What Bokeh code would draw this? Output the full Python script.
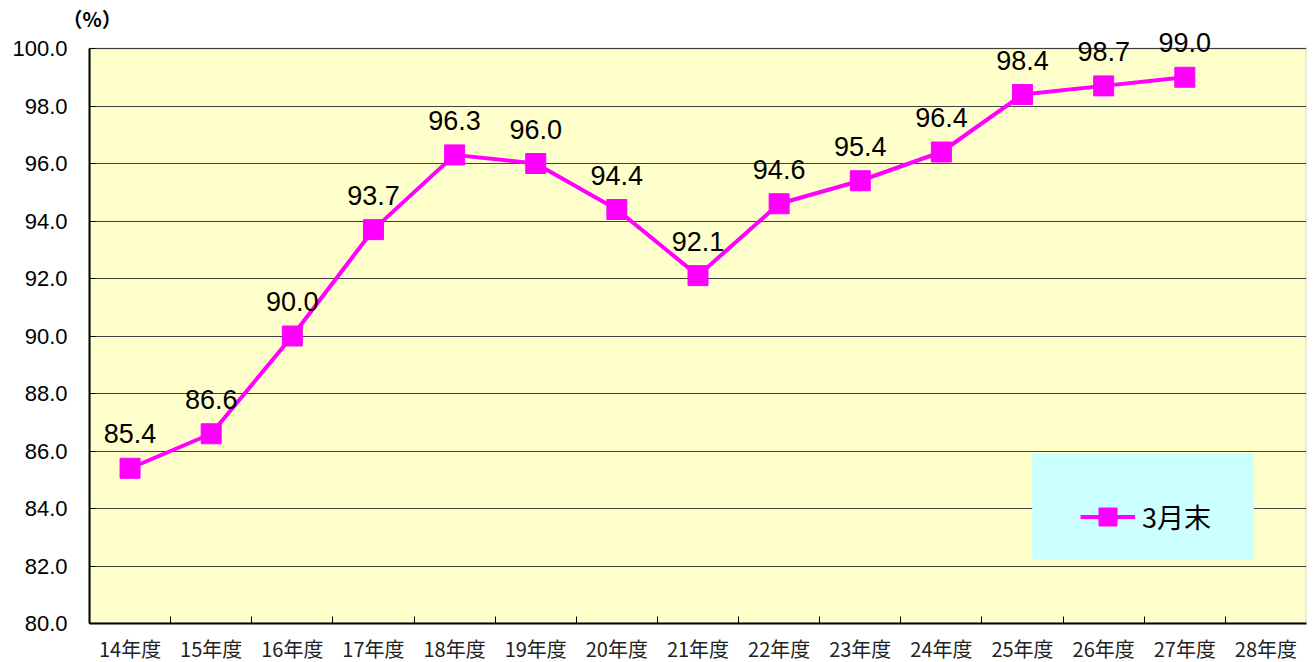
from bokeh.plotting import figure
from bokeh.models import (ColumnDataSource, FixedTicker, LabelSet, Legend, LegendItem,
                          Range1d, NumeralTickFormatter, BoxAnnotation)
from bokeh.core.properties import value
from bokeh.embed import file_html
from bokeh.resources import INLINE

categories = ["14年度", "15年度", "16年度", "17年度", "18年度", "19年度", "20年度",
              "21年度", "22年度", "23年度", "24年度", "25年度", "26年度", "27年度", "28年度"]
values = [85.4, 86.6, 90.0, 93.7, 96.3, 96.0, 94.4, 92.1, 94.6, 95.4, 96.4, 98.4, 98.7, 99.0]
series_name = "3月末"
y_ticks = [80, 82, 84, 86, 88, 90, 92, 94, 96, 98, 100]
Y_MIN, Y_MAX = 80, 100

NUM_FONT = "Liberation Sans"
JP_FONT = "Noto Sans CJK JP"

n = len(categories)
xs = [i + 0.5 for i in range(len(values))]
src = ColumnDataSource(dict(x=xs, y=values, lab=[f"{v:.1f}" for v in values]))

# frame extends a little above 100 so that labels above the top points are not clipped
px_per_unit = 575 / (Y_MAX - Y_MIN)
extra_top = 16
y_end = Y_MAX + extra_top / px_per_unit

p = figure(frame_width=1217, frame_height=575 + extra_top, min_border_left=89,
           min_border_top=48 - extra_top, min_border_right=6, min_border_bottom=37,
           x_range=Range1d(0, n), y_range=Range1d(Y_MIN, y_end),
           output_backend="svg", toolbar_location=None, title="（%）")
p.background_fill_color = "white"
p.border_fill_color = "white"
p.outline_line_color = None

p.title.text_font = JP_FONT
p.title.text_font_size = "20px"
p.title.text_font_style = "bold"
p.title.text_color = "black"
p.title.align = "left"
p.title.offset = -27
p.title.standoff = 0

# yellow plot area (80..100)
area = BoxAnnotation(bottom=Y_MIN, top=Y_MAX, left=0, right=n,
                     fill_color="#FFFFCC", fill_alpha=1.0,
                     line_color="#808080", line_width=2, level="image")
p.add_layout(area)

# grid
p.xgrid.visible = False
p.ygrid.ticker = FixedTicker(ticks=y_ticks)
p.ygrid.grid_line_color = "#404040"
p.ygrid.grid_line_width = 1

# y axis
p.yaxis.ticker = FixedTicker(ticks=y_ticks)
p.yaxis.bounds = (Y_MIN, Y_MAX)
p.yaxis.formatter = NumeralTickFormatter(format="0.0")
p.yaxis.major_label_text_font = NUM_FONT
p.yaxis.major_label_text_font_size = "22px"
p.yaxis.major_label_text_color = "black"
p.yaxis.major_label_standoff = 22
p.yaxis.major_tick_in = 6
p.yaxis.major_tick_out = 0
p.yaxis.minor_tick_line_color = None
p.yaxis.axis_line_color = "black"
p.yaxis.axis_line_width = 2

# x axis
p.xaxis.ticker = FixedTicker(ticks=[i + 0.5 for i in range(n)],
                             minor_ticks=list(range(1, n)))
p.xaxis.major_label_overrides = {i + 0.5: c for i, c in enumerate(categories)}
p.xaxis.major_tick_in = 0
p.xaxis.major_tick_out = 0
p.xaxis.minor_tick_in = 7
p.xaxis.minor_tick_out = 0
p.xaxis.minor_tick_line_color = "black"
p.xaxis.minor_tick_line_width = 1
p.xaxis.axis_line_color = "black"
p.xaxis.axis_line_width = 2
p.xaxis.major_label_text_font = JP_FONT
p.xaxis.major_label_text_font_size = "20px"
p.xaxis.major_label_text_color = "#222222"
p.xaxis.major_label_standoff = 10

ln = p.line("x", "y", source=src, line_color="#FF00FF", line_width=4)
sc = p.scatter("x", "y", source=src, marker="square", size=20,
               fill_color="#FF00FF", line_color="#FF00FF")

labels = LabelSet(x="x", y="y", text="lab", source=src, text_align="center",
                  text_baseline="alphabetic", y_offset=25,
                  text_font=value(NUM_FONT), text_font_size=value("27px"),
                  text_color="black")
p.add_layout(labels)

# legend box
legend_box = BoxAnnotation(left=11.62, right=14.35, bottom=82.23, top=85.91,
                           fill_color="#CCFFFF", fill_alpha=1.0, line_color=None,
                           level="glyph")
p.add_layout(legend_box)

legend = Legend(items=[LegendItem(label=series_name, renderers=[ln, sc])],
                location=(991, 84), background_fill_alpha=0.0, border_line_color=None,
                glyph_width=55, glyph_height=45, label_standoff=7,
                label_text_font=JP_FONT,
                label_text_font_size="27px", label_text_color="black")
p.add_layout(legend)

open("out.html", "w").write(file_html(p, INLINE))
